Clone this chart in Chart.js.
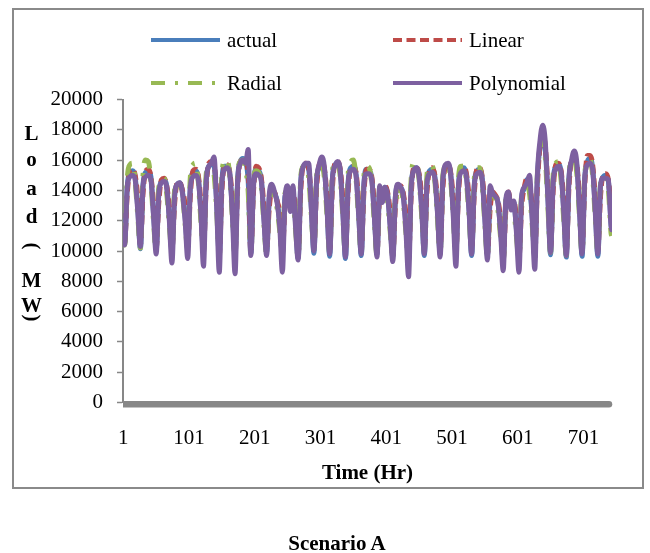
<!DOCTYPE html>
<html>
<head>
<meta charset="utf-8">
<title>Load forecast - Scenario A</title>
<script src="https://cdn.jsdelivr.net/npm/chart.js@4.4.1/dist/chart.umd.min.js"></script>
<style>
  html, body { margin: 0; padding: 0; background: #fff; }
  #wrap { position: relative; width: 650px; height: 553px; overflow: hidden; }
  #c { position: absolute; left: 0; top: 0; }
  #frame { position: absolute; left: 12px; top: 8px; width: 632px; height: 481px; box-sizing: border-box;
           border: 2px solid #8a8a8a; pointer-events: none; }
  #caption { position: absolute; left: 237px; width: 200px; top: 530px; text-align: center;
             font: bold 21px "Liberation Serif", "Times New Roman", serif; line-height: 26px; color: #000; }
</style>
</head>
<body>
<div id="wrap">
  <canvas id="c" width="650" height="553"></canvas>
  <div id="frame"></div>
  <div id="caption">Scenario A</div>
</div>
<script>
// Hourly load over one month (MW); samples at hour 1, then every 4 h from hour 3, then hour 744
const HOURS = [1].concat(Array.from({ length: 186 }, (_, i) => 3 + 4 * i), [744]);
const X_TICKS = [1, 101, 201, 301, 401, 501, 601, 701];
const SERIES_NAMES = ['actual', 'Linear', 'Radial', 'Polynomial'];
const Y_TITLE = 'Load (MW)';
const X_TITLE = 'Time (Hr)';

const ACTUAL = [
  10900,
  10500, 14300, 15200, 15300, 14900, 12800,
  10150, 14400, 15200, 15300, 14900, 12400,
  10100, 13800, 14600, 14700, 14300, 12200,
  10000, 13700, 14400, 14500, 13900, 12300,
  10200, 14300, 15200, 15300, 14900, 12500,
  10000, 14600, 15600, 15700, 15600, 13200,
  9700, 14600, 15600, 15600, 15100, 12600,
  9700, 14800, 15900, 16100, 15900, 14600,
  9800, 14400, 15400, 15300, 14700, 12200,
  9900, 13400, 14100, 13800, 13300, 11800,
  9800, 13600, 13900, 12900, 13800, 11900,
  9500, 14600, 15600, 15700, 15400, 12900,
  9850, 14600, 15500, 15700, 15300, 12800,
  9650, 14700, 15700, 15800, 15300, 12700,
  9500, 14500, 15500, 15600, 15100, 12600,
  9700, 14400, 15400, 15300, 14800, 12300,
  9800, 14000, 13300, 14200, 13800, 11800,
  9600, 13600, 14300, 14200, 13700, 11700,
  9400, 14300, 15400, 15500, 15000, 12800,
  9700, 14500, 15300, 15400, 14900, 12600,
  9900, 14600, 15500, 15600, 15100, 12700,
  9900, 14400, 15400, 15500, 15000, 12800,
  9700, 14400, 15300, 15400, 14800, 12300,
  9700, 13300, 13800, 13600, 13200, 11400,
  9400, 13300, 13800, 12800, 13200, 11500,
  9500, 13500, 14100, 14700, 14300, 12300,
  9600, 14900, 16800, 17500, 16700, 13500,
  9750, 14600, 15600, 15700, 15200, 12700,
  9600, 14800, 15900, 16100, 15600, 12900,
  9650, 14800, 15900, 16100, 15500, 12800,
  9650, 14200, 14900, 15000, 14600, 11800,
  11300
];

const LINEAR = [
  10800,
  10600, 13800, 15300, 15400, 15000, 13500,
  10400, 13800, 15300, 15400, 14900, 13100,
  10200, 13200, 14700, 14800, 14300, 12900,
  10100, 13100, 14500, 14500, 14000, 13000,
  10300, 13700, 15300, 15400, 15000, 13200,
  10100, 14100, 15800, 15900, 15700, 13900,
  9800, 14000, 15600, 15700, 15200, 13300,
  9800, 14200, 15900, 16000, 15900, 15000,
  9900, 13900, 15600, 15500, 14800, 12900,
  10000, 12800, 14000, 13900, 13300, 12500,
  9900, 13000, 13900, 13000, 13900, 12600,
  9800, 14000, 15700, 15800, 15400, 13600,
  10300, 14100, 15700, 15900, 15400, 13500,
  10100, 14100, 15800, 15900, 15400, 13400,
  10000, 13900, 15500, 15600, 15200, 13300,
  10100, 13800, 15400, 15400, 14900, 13000,
  9900, 13400, 13400, 14300, 13900, 12500,
  9700, 13000, 14300, 14300, 13800, 12400,
  9500, 13700, 15500, 15500, 15100, 13500,
  10200, 13900, 15300, 15500, 15000, 13300,
  10000, 14000, 15600, 15700, 15200, 13400,
  10000, 13800, 15500, 15600, 15100, 13500,
  10200, 13800, 15400, 15500, 14900, 13000,
  9800, 12700, 13900, 13700, 13300, 12100,
  9500, 12700, 13900, 12900, 13300, 12200,
  9600, 12900, 14200, 14800, 14400, 13000,
  9700, 14300, 17000, 17700, 16900, 14200,
  10200, 14000, 15700, 15800, 15300, 13400,
  10000, 14200, 16000, 16200, 15700, 13600,
  10100, 14300, 16300, 16300, 15700, 13500,
  10100, 13600, 15000, 15100, 14700, 12500,
  11600
];

const RADIAL = [
  10700,
  10400, 14800, 15700, 15800, 14600, 12300,
  10200, 15000, 16000, 15900, 14600, 11900,
  10000, 14200, 14700, 14800, 13800, 11700,
  9900, 14000, 14400, 14300, 13700, 11800,
  10100, 14900, 15700, 15800, 14600, 12000,
  9900, 15000, 15700, 15800, 15100, 12700,
  9600, 15100, 15900, 16000, 14900, 12100,
  9600, 15100, 15900, 16000, 15400, 13900,
  9700, 14700, 15300, 15200, 14200, 11700,
  9800, 13600, 14000, 13600, 12800, 11300,
  9700, 13800, 14000, 13100, 13300, 11400,
  9600, 14900, 15600, 15700, 14900, 12400,
  10100, 14900, 15600, 15700, 14800, 12300,
  9900, 15100, 15900, 15900, 14900, 12200,
  9800, 15000, 15900, 16000, 14800, 12100,
  9900, 14900, 15600, 15500, 14400, 11800,
  9700, 14200, 13300, 14100, 13300, 11300,
  9500, 13700, 13300, 14100, 13200, 11200,
  9300, 14800, 15800, 15800, 14700, 12300,
  10000, 15000, 15600, 15600, 14600, 12100,
  9800, 14900, 15600, 15700, 14700, 12200,
  9800, 14800, 15600, 15600, 14600, 12300,
  10000, 14800, 15500, 15500, 14400, 11800,
  9600, 13500, 13700, 13500, 12700, 10900,
  9300, 13500, 13700, 12900, 12700, 11000,
  9400, 13700, 14000, 14600, 13800, 11800,
  9500, 15100, 16700, 17300, 16200, 12900,
  9900, 15000, 15800, 15900, 14700, 12100,
  9700, 15100, 15800, 16000, 15100, 12300,
  9900, 15000, 15800, 16000, 15000, 12200,
  9900, 14400, 14800, 14900, 14100, 11200,
  11000
];

const POLYNOMIAL = [
  10600,
  10400, 14200, 14900, 15000, 14700, 12600,
  10300, 14300, 14900, 15000, 14700, 12300,
  9800, 13800, 14500, 14600, 14200, 12000,
  9200, 13600, 14400, 14500, 13800, 12000,
  9500, 14200, 14900, 15000, 14700, 12500,
  9000, 14500, 15600, 15800, 16200, 13000,
  8600, 14500, 15400, 15500, 15100, 12300,
  8500, 14600, 15800, 16000, 15800, 16700,
  9700, 14200, 15100, 15000, 14600, 12000,
  9700, 13700, 14400, 13900, 13200, 11600,
  8600, 13500, 14300, 12600, 14300, 11600,
  9400, 14500, 15600, 15800, 15800, 12800,
  10000, 14600, 15700, 16200, 15500, 12700,
  9800, 14700, 15600, 15900, 15300, 12500,
  9600, 14400, 15300, 15400, 15000, 12400,
  9800, 14300, 15100, 15100, 14700, 12200,
  9600, 14300, 13200, 14200, 13700, 11600,
  9300, 13600, 14400, 14200, 13600, 11300,
  8300, 14200, 15300, 15500, 14900, 12700,
  9800, 14500, 15100, 15200, 14800, 12500,
  9600, 14600, 15700, 15800, 15100, 12300,
  9000, 14300, 15200, 15300, 14900, 12600,
  9800, 14300, 15100, 15200, 14700, 12100,
  9400, 14300, 13800, 13600, 13200, 11200,
  8700, 13400, 13900, 12700, 13300, 11300,
  8600, 13600, 14200, 14500, 15000, 12200,
  8800, 15000, 17300, 18300, 17200, 13500,
  9900, 14600, 15400, 15600, 15200, 12600,
  9700, 14700, 16000, 16600, 15800, 12700,
  9800, 14700, 15700, 15800, 15400, 12600,
  9800, 14300, 14800, 14800, 14700, 11700,
  11400
];

const SERIF = '"Liberation Serif", "Times New Roman", serif';
const AXIS_GRAY = '#878787';
const STYLES = [
  { color: '#4A7EBB', dash: [],              cap: 'round' },
  { color: '#BE4B48', dash: [9, 4.5],        cap: 'butt' },
  { color: '#98B954', dash: [14, 10, 3, 10], cap: 'butt' },
  { color: '#7D60A0', dash: [],              cap: 'round' }
];

const toPoints = arr => arr.map((v, i) => ({ x: HOURS[i], y: v }));
const VALUES = [ACTUAL, LINEAR, RADIAL, POLYNOMIAL];

const datasets = VALUES.map((vals, i) => ({
  label: SERIES_NAMES[i],
  data: toPoints(vals),
  borderColor: STYLES[i].color,
  borderWidth: 5,
  borderDash: STYLES[i].dash,
  borderCapStyle: STYLES[i].cap,
  borderJoinStyle: 'round',
  pointRadius: 0,
  fill: false,
  cubicInterpolationMode: 'monotone',
  order: VALUES.length - 1 - i   // later series sit on top
}));

// Two-column legend, stacked vertical axis title and the heavy category axis line
const decorations = {
  id: 'decorations',
  afterDraw(chart) {
    const ctx = chart.ctx;
    const area = chart.chartArea;
    const zero = chart.scales.y.getPixelForValue(0);
    ctx.save();

    // heavy horizontal axis bar
    ctx.fillStyle = AXIS_GRAY;
    ctx.beginPath();
    ctx.moveTo(area.left, zero - 1.5);
    ctx.lineTo(area.right - 3, zero - 1.5);
    ctx.arc(area.right - 3, zero + 1.75, 3.25, -Math.PI / 2, Math.PI / 2);
    ctx.lineTo(area.left, zero + 5);
    ctx.closePath();
    ctx.fill();

    // legend
    const cols = [151, 393], rows = [40, 83], lineLen = 69;
    ctx.font = '21px ' + SERIF;
    ctx.textBaseline = 'middle';
    ctx.textAlign = 'left';
    SERIES_NAMES.forEach((name, i) => {
      const x = cols[i % 2], y = rows[Math.floor(i / 2)];
      ctx.strokeStyle = STYLES[i].color;
      ctx.lineWidth = 4;
      ctx.lineCap = 'butt';
      ctx.setLineDash(STYLES[i].dash);
      ctx.beginPath();
      ctx.moveTo(x, y);
      ctx.lineTo(x + lineLen, y);
      ctx.stroke();
      ctx.setLineDash([]);
      ctx.fillStyle = '#000';
      ctx.fillText(name, x + lineLen + 7, y + 1);
    });

    // stacked y-axis title; parentheses turned sideways
    const slots = [140, 166, 195, 223, null, 246, 287, 312, 318];
    const cx = 31.5;
    ctx.font = 'bold 21px ' + SERIF;
    ctx.fillStyle = '#000';
    ctx.textAlign = 'center';
    Array.from(Y_TITLE).forEach((ch, i) => {
      const y = slots[i];
      if (ch === ' ' || y == null) return;
      if (ch === '(' || ch === ')') {
        ctx.save();
        ctx.translate(cx, y);
        ctx.rotate(Math.PI / 2);
        ctx.textBaseline = 'middle';
        ctx.fillText(ch, 0, 0);
        ctx.restore();
      } else {
        ctx.textBaseline = 'alphabetic';
        ctx.fillText(ch, cx, y);
      }
    });
    ctx.restore();
  }
};

new Chart(document.getElementById('c'), {
  type: 'line',
  data: { datasets },
  options: {
    responsive: false,
    animation: false,
    devicePixelRatio: 1,
    events: [],
    layout: { padding: { top: 99.5, right: 38, bottom: 0, left: 0 } },
    plugins: { legend: { display: false }, tooltip: { enabled: false }, title: { display: false } },
    scales: {
      x: {
        type: 'linear',
        min: 0.5,
        max: 744.5,
        afterBuildTicks: s => { s.ticks = X_TICKS.map(v => ({ value: v })); },
        afterFit: s => { s.height = 150.5; },
        ticks: { color: '#000', font: { family: SERIF, size: 21 }, padding: 23,
                 maxRotation: 0, autoSkip: false, callback: v => String(v) },
        grid: { display: false, drawTicks: false },
        border: { display: false },
        title: { display: true, text: X_TITLE, color: '#000',
                 font: { family: SERIF, size: 21, weight: 'bold' }, padding: { top: 0, bottom: 67 } }
      },
      y: {
        min: 0,
        max: 20000,
        afterFit: s => { s.width = 123; },
        ticks: { stepSize: 2000, color: '#000', font: { family: SERIF, size: 21 }, padding: 14,
                 callback: v => String(v) },
        grid: { display: true, drawOnChartArea: false, drawTicks: true, tickLength: 6,
                tickColor: AXIS_GRAY, tickWidth: 1.5, color: AXIS_GRAY },
        border: { display: true, color: AXIS_GRAY, width: 2 }
      }
    }
  },
  plugins: [decorations]
});
</script>
</body>
</html>
